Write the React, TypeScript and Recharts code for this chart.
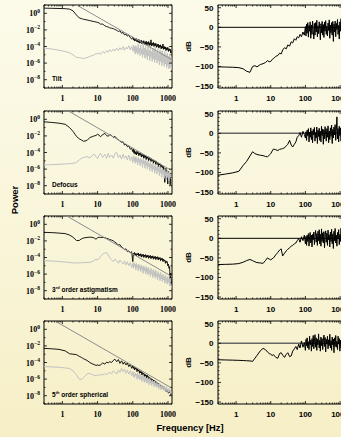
import React from 'react'
import { LineChart, Line, XAxis, YAxis, ReferenceArea, ReferenceLine } from 'recharts'

// frequency grid [Hz]: coarse below 100 Hz, dense where the spectra get noisy
const freqLow = [
  0.3, 0.5, 0.8, 1.2, 1.6, 2, 2.5, 3, 3.5, 4,
  5, 6, 7, 8, 9, 10, 11, 12, 14, 16,
  18, 20, 22, 25, 28, 31, 35, 39, 43, 48,
  53, 58, 64, 70, 77, 85, 93,
]
const freqHigh = [
  100, 104, 108, 112, 117, 122, 127, 132, 137, 143,
  149, 155, 161, 168, 175, 182, 189, 197, 205, 213,
  222, 231, 240, 250, 260, 270, 281, 292, 304, 316,
  329, 342, 356, 370, 385, 400, 416, 433, 450, 468,
  487, 506, 527, 548, 570, 593, 617, 641, 667, 694,
  721, 750, 780, 811, 844, 877, 912, 949, 987, 1026,
  1067, 1110, 1155, 1200, 1250,
]
const freq = [...freqLow, ...freqHigh]

// log10(power), open loop (black)
const tiltOpen = [
  0.62, 0.6, 0.58, 0.56, 0.5, 0.3, -0.2, -0.55, -0.65, -0.72,
  -0.8, -0.88, -0.95, -1.0, -1.05, -1.1, -1.15, -1.3, -1.3, -1.5,
  -1.6, -1.65, -1.75, -1.8, -1.85, -1.95, -2.05, -2.2, -2.1, -2.4,
  -2.3, -2.6, -2.5, -2.75, -2.6, -2.95, -3.1,
  -2.85, -3.2, -3.0, -3.35, -3.1, -3.3, -3.05, -3.45, -3.2, -3.5,
  -3.15, -3.6, -3.3, -3.55, -3.25, -3.7, -3.4, -3.6, -3.3, -3.75,
  -3.45, -3.7, -3.35, -3.85, -3.5, -3.75, -3.4, -3.9, -3.55, -3.8,
  -3.2, -3.95, -3.6, -3.85, -3.5, -4.0, -3.65, -3.9, -3.6, -4.1,
  -3.75, -4.0, -3.7, -4.2, -3.85, -4.1, -3.8, -4.3, -3.95, -4.2,
  -3.7, -4.35, -4.0, -4.3, -4.05, -4.5, -4.15, -4.4, -4.1, -4.6,
  -4.25, -4.5, -4.3, -4.8, -4.5,
]
const defocusOpen = [
  -0.3, -0.38, -0.47, -0.6, -1.0, -1.45, -2.05, -2.35, -2.5, -2.65,
  -2.55, -2.2, -2.1, -2.0, -1.95, -1.8, -1.9, -2.1, -1.85, -1.7,
  -1.95, -2.05, -1.85, -1.95, -2.2, -2.05, -2.3, -2.5, -2.6, -2.8,
  -2.7, -3.1, -3.0, -3.3, -3.2, -3.6, -3.5,
  -3.9, -3.6, -4.1, -3.75, -4.2, -3.9, -4.3, -3.85, -4.15, -4.0,
  -4.4, -4.05, -4.3, -4.1, -4.55, -4.2, -4.45, -4.25, -4.7, -4.3,
  -4.6, -4.4, -4.85, -4.45, -4.7, -4.5, -5.0, -4.6, -4.85, -4.65,
  -5.1, -4.75, -5.0, -4.8, -5.3, -4.9, -5.15, -5.0, -5.5, -5.05,
  -5.3, -5.2, -5.7, -5.3, -5.5, -5.35, -5.9, -5.5, -5.7, -5.6,
  -6.2, -5.7, -6.0, -7.6, -6.1, -5.9, -6.5, -6.2, -7.8, -6.3,
  -6.6, -6.4, -7.9, -6.5, -6.8,
]
const astigOpen = [
  -0.97, -1.0, -1.06, -1.12, -1.3, -1.55, -1.95, -1.95, -1.75, -1.65,
  -1.58, -1.55, -1.57, -1.65, -1.8, -1.62, -1.55, -1.6, -1.58, -1.62,
  -1.7, -1.75, -1.85, -1.9, -2.0, -2.15, -2.3, -2.5, -2.45, -2.75,
  -2.85, -3.05, -2.95, -3.3, -3.2, -3.45, -3.3,
  -4.5, -3.5, -3.7, -3.4, -3.75, -3.5, -3.8, -3.55, -3.7, -3.45,
  -3.85, -3.6, -3.8, -3.55, -3.95, -3.65, -3.85, -3.6, -4.0, -3.7,
  -3.9, -3.65, -4.05, -3.75, -3.95, -3.7, -4.1, -3.8, -4.0, -3.75,
  -4.15, -3.85, -4.05, -3.8, -4.2, -3.9, -4.1, -3.85, -4.25, -3.95,
  -4.15, -3.9, -4.3, -4.0, -4.2, -4.0, -4.4, -4.1, -4.3, -4.1,
  -4.5, -4.2, -4.4, -4.3, -4.7, -4.4, -4.6, -4.5, -5.0, -4.8,
  -5.3, -5.1, -6.8, -5.9, -7.4,
]
const spherOpen = [
  -2.3, -2.35, -2.42, -2.6, -2.95, -3.0, -3.05, -3.25, -3.4, -3.55,
  -3.75, -4.0, -4.15, -4.25, -4.35, -4.3, -4.35, -4.3, -4.05, -4.2,
  -3.95, -4.05, -3.9, -4.0, -3.75, -3.6, -3.9, -3.65, -4.1, -3.8,
  -4.2, -3.95, -4.3, -4.05, -4.5, -4.2, -4.7,
  -4.4, -4.7, -4.5, -4.9, -4.6, -4.8, -4.7, -5.1, -4.8, -5.0,
  -4.9, -5.3, -5.0, -5.25, -5.1, -5.5, -5.2, -5.4, -5.3, -5.7,
  -5.4, -5.65, -5.5, -5.9, -5.55, -5.8, -5.7, -6.1, -5.8, -6.05,
  -5.9, -6.3, -6.0, -6.25, -6.1, -6.5, -6.15, -6.4, -6.3, -6.7,
  -6.4, -6.6, -6.5, -6.95, -6.6, -6.8, -6.7, -7.1, -6.8, -7.05,
  -6.9, -7.3, -7.0, -7.25, -7.1, -7.5, -7.2, -7.45, -7.3, -7.7,
  -7.4, -7.6, -7.5, -7.9, -7.6,
]

// log10(power), closed loop residual (light grey)
const tiltClosed = [
  -4.2, -4.3, -4.45, -4.6, -4.75, -5.0, -5.3, -5.35, -5.4, -5.45,
  -5.35, -5.2, -5.1, -5.0, -4.85, -4.9, -4.75, -4.95, -4.6, -4.8,
  -4.5, -4.7, -4.4, -4.6, -4.3, -4.55, -4.2, -4.5, -4.15, -4.4,
  -4.0, -4.45, -4.1, -4.3, -3.9, -4.4, -4.0,
  -4.5, -3.8, -4.6, -4.0, -4.9, -3.9, -4.7, -4.1, -5.0, -3.7,
  -4.8, -4.2, -5.1, -3.8, -4.9, -4.3, -5.3, -3.6, -5.0, -4.2,
  -5.4, -3.9, -5.2, -4.4, -5.6, -4.0, -5.1, -4.5, -5.7, -3.9,
  -5.3, -4.6, -5.8, -4.2, -5.5, -4.4, -5.9, -4.1, -5.6, -4.7,
  -6.0, -4.3, -5.7, -4.8, -6.2, -4.4, -5.8, -4.6, -6.3, -4.5,
  -6.0, -4.9, -6.4, -4.6, -6.1, -5.0, -6.6, -4.8, -6.3, -5.2,
  -6.7, -4.9, -6.5, -5.3, -6.8,
]
const defocusClosed = [
  -5.5, -5.47, -5.42, -5.38, -5.35, -5.3, -5.2, -4.9, -4.7, -4.6,
  -4.5, -4.65, -4.4, -4.2, -4.5, -4.75, -4.3, -4.1, -4.6, -4.2,
  -4.7, -4.1, -4.6, -4.3, -4.7, -4.1, -4.0, -4.6, -4.3, -4.8,
  -4.2, -4.7, -4.4, -4.9, -4.3, -5.0, -4.5,
  -5.2, -4.4, -5.0, -4.6, -5.3, -4.5, -5.1, -4.7, -5.5, -4.6,
  -5.2, -4.8, -5.6, -4.7, -5.3, -4.9, -5.8, -4.8, -5.4, -5.0,
  -5.9, -4.9, -5.6, -5.1, -6.0, -5.0, -5.7, -5.3, -6.2, -5.1,
  -5.9, -5.4, -6.3, -5.3, -6.0, -5.6, -6.5, -5.4, -6.2, -5.7,
  -6.6, -5.5, -6.3, -5.8, -6.8, -5.7, -6.5, -6.0, -7.0, -5.9,
  -6.6, -6.1, -7.1, -6.0, -6.8, -6.3, -7.3, -6.2, -7.0, -6.4,
  -7.4, -6.3, -7.1, -6.6, -7.2,
]
const astigClosed = [
  -4.38, -4.42, -4.48, -4.55, -4.6, -4.65, -4.66, -4.65, -4.63, -4.62,
  -4.6, -4.58, -4.5, -4.35, -4.2, -4.3, -4.1, -3.9, -3.6, -3.45,
  -3.4, -3.7, -4.0, -4.3, -4.5, -4.2, -4.4, -4.7, -4.3, -4.6,
  -4.8, -4.4, -4.9, -4.5, -5.0, -4.6, -5.2,
  -4.7, -5.3, -4.6, -5.1, -4.8, -5.5, -4.7, -5.2, -4.9, -5.6,
  -4.8, -5.4, -5.0, -5.7, -4.9, -5.5, -5.1, -5.9, -5.0, -5.6,
  -5.2, -6.0, -5.1, -5.8, -5.3, -6.1, -5.2, -5.9, -5.5, -6.3,
  -5.3, -6.0, -5.6, -6.4, -5.4, -6.2, -5.7, -6.5, -5.5, -6.3,
  -5.9, -6.7, -5.7, -6.4, -6.0, -6.8, -5.8, -6.6, -6.1, -6.9,
  -6.0, -6.7, -6.3, -7.1, -6.1, -6.9, -6.4, -7.2, -6.3, -7.0,
  -6.6, -7.4, -6.5, -7.2, -7.6,
]
const spherClosed = [
  -4.5, -4.53, -4.58, -4.65, -4.72, -5.0, -5.5, -6.0, -6.05, -5.8,
  -5.4, -5.3, -5.45, -5.55, -5.6, -5.5, -5.55, -5.45, -5.5, -5.35,
  -5.45, -5.3, -5.2, -5.35, -5.0, -5.15, -5.4, -4.9, -5.2, -4.7,
  -5.1, -4.8, -5.3, -4.9, -5.4, -5.0, -5.6,
  -5.1, -5.7, -5.2, -5.8, -5.3, -5.6, -5.4, -6.0, -5.3, -5.9,
  -5.5, -6.1, -5.4, -6.0, -5.6, -6.3, -5.5, -6.1, -5.8, -6.4,
  -5.7, -6.3, -5.9, -6.5, -5.8, -6.4, -6.0, -6.7, -5.9, -6.5,
  -6.2, -6.8, -6.1, -6.6, -6.3, -6.9, -6.2, -6.8, -6.5, -7.0,
  -6.4, -6.9, -6.6, -7.2, -6.5, -7.0, -6.8, -7.3, -6.7, -7.1,
  -6.9, -7.4, -6.8, -7.3, -7.0, -7.5, -6.9, -7.4, -7.2, -7.6,
  -7.1, -7.5, -7.3, -7.8, -7.5,
]

// rejection transfer function [dB]
const tiltDb = [
  -101, -101.5, -102, -103, -106, -112, -115, -100, -98, -101,
  -95, -93, -90, -85, -88, -87, -82, -80, -74, -72,
  -66, -68, -58, -52, -55, -45, -48, -37, -40, -29,
  -33, -24, -27, -18, -24, -12, -20,
  2, -22, 8, -15, 12, -25, 5, -10, 14, -28,
  6, -18, 16, -8, -30, 10, -20, 12, -12, 18,
  -24, 4, -16, 14, -6, -32, 9, -14, 15, -20,
  7, -26, 13, -10, 17, -18, 3, -22, 11, -8,
  19, -28, 6, -14, 12, -20, 15, -36, 8, -12,
  16, -24, 10, -6, 20, -18, 5, -30, 14, -10,
  22, -16, 7, -22, 4,
]
const defocusDb = [
  -107, -104, -101, -97, -82, -72, -58, -47, -52, -54,
  -56, -57, -59, -60, -56, -52, -45, -40, -42, -44,
  -41, -40, -39, -37, -32, -28, -18, -30, -35, -28,
  -22, -10, -6, 2, -10, 5, -3,
  -12, 4, -18, 8, -6, 12, -22, 3, -10, 14,
  -16, 6, -24, 10, -4, 15, -20, 2, -12, 16,
  -26, 8, -8, 13, -18, 5, -22, 18, -6, 11,
  -28, 9, -14, 17, -4, -20, 12, -10, 19, -24,
  6, -16, 14, -8, 21, -26, 10, -12, 16, -4,
  22, -18, 8, 42, -14, 12, -22, 18, -6, 14,
  -20, 10, -10, 20, 6,
]
const astigDb = [
  -67, -66.5, -66, -64.5, -61, -57, -54, -57, -60, -62,
  -63, -64, -57, -50, -53, -55, -52, -50, -42, -36,
  -30, -27, -45, -38, -32, -28, -24, -20, -18, -14,
  -12, -6, -1, -10, 4, -6, 8,
  -14, 5, -18, 8, -8, 12, -20, 4, 15, -12,
  8, -22, 10, -4, 16, -16, 6, 20, -10, 12,
  -18, 18, -6, 22, -14, 10, -20, 24, -8, 14,
  -12, 17, -24, 6, 19, -10, 13, -18, 21, -4,
  9, -22, 16, -8, 23, -14, 11, -26, 18, -6,
  25, -12, 8, -20, 15, -2, 22, -16, 10, -8,
  26, -18, 12, -10, 14,
]
const spherDb = [
  -42, -42.5, -43, -43.5, -44, -44.5, -45, -46, -38, -31,
  -19, -13, -16, -22, -26, -28, -31, -29, -36, -38,
  -26, -24, -30, -36, -28, -24, -34, -32, -20, -14,
  -8, -16, -2, -12, 6, -10, 2,
  -18, 10, -6, 14, -12, 4, -16, 18, -4, 8,
  -20, 12, -8, 20, -14, 6, 22, -10, 14, -18,
  10, -4, 24, -12, 8, -20, 16, -6, 12, -16,
  6, 21, -8, 15, -22, 10, -2, 18, -14, 9,
  -6, 23, -12, 7, -18, 16, -4, 11, -24, 14,
  -8, 20, -10, 5, -16, 18, -2, 12, -20, 8,
  -12, 16, -6, 10, -14,
]

// power-law fits: [start, end] frequency and log10(power)
const tiltFitF = [2.55, 1300]
const tiltFitV = [1, -5.6]
const defocusFitF = [1.48, 1300]
const defocusFitV = [1, -6.2]
const astigFitF = [1.33, 1300]
const astigFitV = [1, -6.3]
const spherFitF = [0.62, 1300]
const spherFitV = [1, -7.1]

const xTicks = [
  0.3, 0.4, 0.5, 0.6, 0.7, 0.8, 0.9, 1, 2, 3, 4, 5, 6, 7, 8, 9,
  10, 20, 30, 40, 50, 60, 70, 80, 90, 100, 200, 300, 400, 500, 600, 700, 800, 900, 1000,
]
const powTicks = [10, 1, 1e-1, 1e-2, 1e-3, 1e-4, 1e-5, 1e-6, 1e-7, 1e-8, 1e-9]
const dbTicks = [-150, -140, -130, -120, -110, -100, -90, -80, -70, -60, -50, -40, -30, -20, -10, 0, 10, 20, 30, 40, 50]

const SANS = '"Liberation Sans", Arial, Helvetica, sans-serif'
const SERIF = '"Liberation Serif", "Times New Roman", serif'

const pts = (fs: number[], vs: number[]) => fs.map((f, i) => ({ f, v: 10 ** vs[i] }))
const dbPts = (vs: number[]) => freq.map((f, i) => ({ f, v: vs[i] }))
const isDecade = (v: number) => Math.abs(Math.log10(v) - Math.round(Math.log10(v))) < 1e-9

const PT = 5
const PH = 83
const PB = PT + PH

function xTick(left: number, right: number, serif: boolean) {
  return (props: any) => {
    const { x, payload } = props
    const v = payload.value
    const major = isDecade(v)
    const len = major ? 3 : 1.5
    if (x < left - 0.5 || x > right + 0.5) return <g />
    return (
      <g>
        <line x1={x} x2={x} y1={PB} y2={PB - len} stroke="#000" strokeWidth={0.8} />
        <line x1={x} x2={x} y1={PT} y2={PT + len} stroke="#000" strokeWidth={0.8} />
        {major && (
          <text x={x} y={PB + 13} textAnchor="middle" fontSize={8} fontWeight="bold"
            fontFamily={serif ? SERIF : SANS} fill="#000">{v}</text>
        )}
      </g>
    )
  }
}

function powTick(left: number, right: number) {
  return (props: any) => {
    const { y, payload } = props
    const e = Math.round(Math.log10(payload.value))
    const labelled = e <= 0 && e % 2 === 0
    const len = labelled ? 3 : 1.5
    return (
      <g>
        <line x1={left} x2={left + len} y1={y} y2={y} stroke="#000" strokeWidth={0.8} />
        <line x1={right} x2={right - len} y1={y} y2={y} stroke="#000" strokeWidth={0.8} />
        {labelled && (
          <text x={left - 4} y={y + 3} textAnchor="end" fontSize={8} fontWeight="bold" fontFamily={SERIF} fill="#000">
            10<tspan dy={-3.5} fontSize={5.5}>{e === 0 ? '0' : '\u2212' + Math.abs(e)}</tspan>
          </text>
        )}
      </g>
    )
  }
}

function dbTick(left: number, right: number) {
  return (props: any) => {
    const { y, payload } = props
    const v = payload.value
    const major = v % 50 === 0
    const len = major ? 3 : 1.5
    return (
      <g>
        <line x1={left} x2={left + len} y1={y} y2={y} stroke="#000" strokeWidth={0.8} />
        <line x1={right} x2={right - len} y1={y} y2={y} stroke="#000" strokeWidth={0.8} />
        {major && (
          <text x={left - 4.5} y={y + 3} textAnchor="end" fontSize={8} fontWeight="bold" fontFamily={SANS} fill="#000">
            {v < 0 ? '\u2212' + Math.abs(v) : v}
          </text>
        )}
      </g>
    )
  }
}

interface PowerProps {
  top: number
  open: number[]
  closed: number[]
  fitF: number[]
  fitV: number[]
}

function PowerPanel({ top, open, closed, fitF, fitV }: PowerProps) {
  const YW = 44
  const PW = 128
  return (
    <div style={{ position: 'absolute', left: 0, top: top - PT }}>
      <LineChart width={YW + PW + 4} height={PB + 20} margin={{ top: PT, right: 4, bottom: 0, left: 0 }}>
        <XAxis dataKey="f" type="number" scale="log" domain={[0.3, 1300]} allowDataOverflow
          ticks={xTicks} interval={0} height={20} axisLine={false} tickLine={false}
          tick={xTick(YW, YW + PW, true)} />
        <YAxis type="number" scale="log" domain={[1e-9, 10]} allowDataOverflow
          ticks={powTicks} interval={0} width={YW} axisLine={false} tickLine={false}
          tick={powTick(YW, YW + PW)} />
        <ReferenceArea x1={0.3} x2={1300} y1={1e-9} y2={10} fill="none" stroke="#000" strokeWidth={1} fillOpacity={0} />
        <Line data={pts(freq, open)} dataKey="v" stroke="#000" strokeWidth={0.9} dot={false} isAnimationActive={false} />
        <Line data={pts(freq, closed)} dataKey="v" stroke="#c2c2c2" strokeWidth={1} dot={false} isAnimationActive={false} />
        <Line data={pts(fitF, fitV)} dataKey="v" stroke="#8c8c8c" strokeWidth={1} dot={false} isAnimationActive={false} />
      </LineChart>
    </div>
  )
}

function DbPanel({ top, db, zeroColor }: { top: number; db: number[]; zeroColor: string }) {
  const YW = 40
  const PW = 126
  return (
    <div style={{ position: 'absolute', left: 218 - YW, top: top - PT }}>
      <LineChart width={YW + PW + 2} height={PB + 20} margin={{ top: PT, right: 2, bottom: 0, left: 0 }}>
        <XAxis dataKey="f" type="number" scale="log" domain={[0.3, 1300]} allowDataOverflow
          ticks={xTicks} interval={0} height={20} axisLine={false} tickLine={false}
          tick={xTick(YW, YW + PW, false)} />
        <YAxis type="number" domain={[-155, 57]} allowDataOverflow
          ticks={dbTicks} interval={0} width={YW} axisLine={false} tickLine={false}
          tick={dbTick(YW, YW + PW)} />
        <ReferenceArea x1={0.3} x2={1300} y1={-155} y2={57} fill="none" stroke="#000" strokeWidth={1} fillOpacity={0} />
        <ReferenceLine y={0} stroke={zeroColor} strokeWidth={zeroColor === '#000' ? 1 : 1.6} />
        <Line data={dbPts(db)} dataKey="v" stroke="#000" strokeWidth={1} dot={false} isAnimationActive={false} />
      </LineChart>
    </div>
  )
}

const panelTops = [5, 111, 216, 321]

export default function App() {
  const labelStyle = { fontFamily: SANS, fontWeight: 'bold' as const, fill: '#000' }
  return (
    <div style={{
      position: 'fixed', left: 0, top: 0, width: 341, height: 437, overflow: 'hidden',
      background: 'linear-gradient(180deg, #fcfbea 0%, #f9f5d9 55%, #f6efc6 100%)',
    }}>
      <PowerPanel top={panelTops[0]} open={tiltOpen} closed={tiltClosed} fitF={tiltFitF} fitV={tiltFitV} />
      <PowerPanel top={panelTops[1]} open={defocusOpen} closed={defocusClosed} fitF={defocusFitF} fitV={defocusFitV} />
      <PowerPanel top={panelTops[2]} open={astigOpen} closed={astigClosed} fitF={astigFitF} fitV={astigFitV} />
      <PowerPanel top={panelTops[3]} open={spherOpen} closed={spherClosed} fitF={spherFitF} fitV={spherFitV} />
      <DbPanel top={panelTops[0]} db={tiltDb} zeroColor="#000" />
      <DbPanel top={panelTops[1]} db={defocusDb} zeroColor="#666" />
      <DbPanel top={panelTops[2]} db={astigDb} zeroColor="#000" />
      <DbPanel top={panelTops[3]} db={spherDb} zeroColor="#666" />
      <svg width={341} height={437} style={{ position: 'absolute', left: 0, top: 0, pointerEvents: 'none' }}>
        <text x={52} y={panelTops[0] + PH - 7.5} fontSize={6.5} {...labelStyle}>Tilt</text>
        <text x={52} y={panelTops[1] + PH - 7.5} fontSize={6.5} {...labelStyle}>Defocus</text>
        <text x={52} y={panelTops[2] + PH - 7.5} fontSize={6.5} {...labelStyle}>
          3<tspan dy={-2.5} fontSize={4}>rd</tspan><tspan dy={2.5}> order astigmatism</tspan>
        </text>
        <text x={52} y={panelTops[3] + PH - 7.5} fontSize={6.5} {...labelStyle}>
          5<tspan dy={-2.5} fontSize={4}>th</tspan><tspan dy={2.5}> order spherical</tspan>
        </text>
        <text transform="translate(17.5,200) rotate(-90)" textAnchor="middle" fontSize={9.5} {...labelStyle}>Power</text>
        {panelTops.map((t) => (
          <text key={t} transform={`translate(190.5,${t + PH / 2}) rotate(-90)`} textAnchor="middle" fontSize={8} {...labelStyle}>dB</text>
        ))}
        <text x={190} y={431} textAnchor="middle" fontSize={9.3} {...labelStyle}>Frequency [Hz]</text>
      </svg>
    </div>
  )
}
